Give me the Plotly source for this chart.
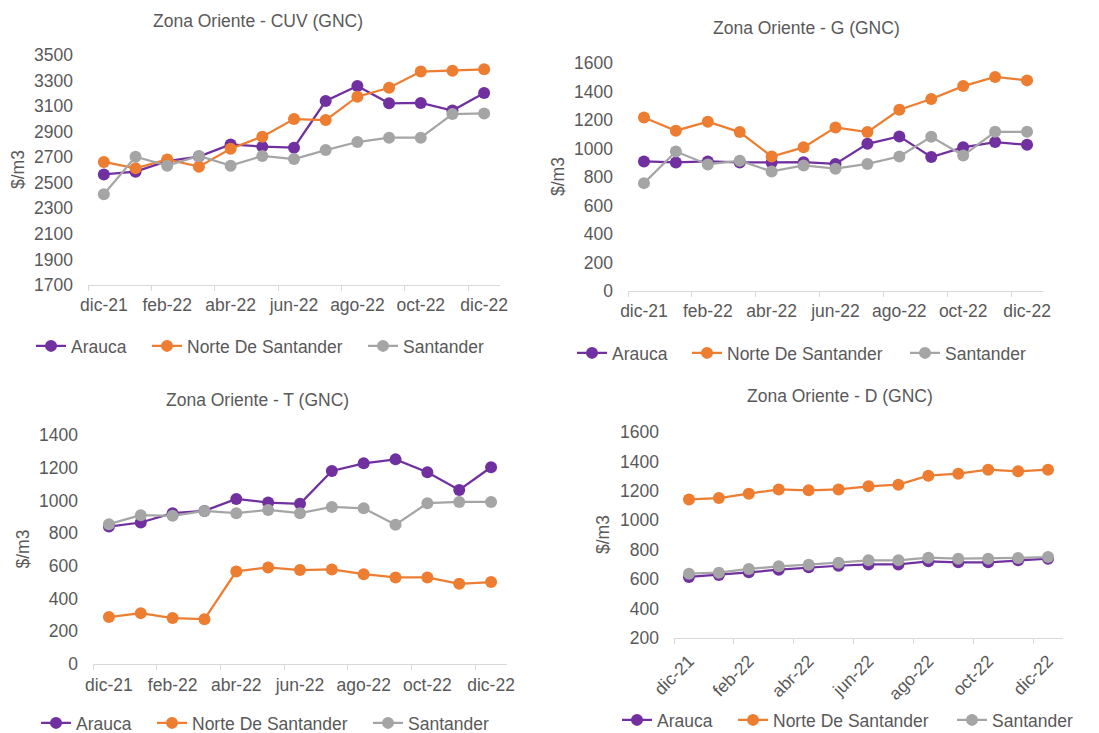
import plotly.graph_objects as go

months = ["dic-21", "ene-22", "feb-22", "mar-22", "abr-22", "may-22", "jun-22",
          "jul-22", "ago-22", "sep-22", "oct-22", "nov-22", "dic-22"]
series_names = ["Arauca", "Norte De Santander", "Santander"]
colors = ["#7030A0", "#ED7D31", "#A5A5A5"]

cuv_arauca = [2565, 2587, 2670, 2705, 2800, 2783, 2775, 3140, 3257, 3122, 3125, 3065, 3203]
cuv_norte = [2663, 2613, 2683, 2626, 2767, 2861, 2999, 2991, 3174, 3244, 3370, 3377, 3388]
cuv_sant = [2410, 2704, 2634, 2710, 2634, 2710, 2686, 2756, 2819, 2853, 2853, 3038, 3043]

g_arauca = [909, 902, 909, 902, 902, 904, 892, 1033, 1085, 940, 1008, 1045, 1026]
g_norte = [1218, 1125, 1188, 1115, 944, 1008, 1148, 1115, 1272, 1347, 1438, 1502, 1478]
g_sant = [757, 979, 888, 914, 839, 881, 858, 892, 944, 1082, 951, 1117, 1117]

t_arauca = [840, 865, 922, 936, 1009, 987, 979, 1180, 1227, 1251, 1172, 1064, 1203]
t_norte = [287, 311, 281, 274, 566, 590, 574, 578, 549, 529, 529, 490, 501]
t_sant = [855, 910, 906, 936, 922, 942, 922, 960, 952, 851, 983, 991, 991]

d_arauca = [615, 628, 646, 664, 680, 691, 700, 700, 721, 714, 714, 728, 739]
d_norte = [1142, 1151, 1181, 1210, 1204, 1210, 1231, 1242, 1303, 1317, 1344, 1333, 1344]
d_sant = [637, 644, 669, 687, 698, 712, 728, 728, 746, 739, 739, 744, 750]

titles = ["Zona Oriente - CUV (GNC)", "Zona Oriente - G (GNC)",
          "Zona Oriente - T (GNC)", "Zona Oriente - D (GNC)"]
y_title = "$/m3"
y_ranges = [[1700, 3500], [0, 1600], [0, 1400], [200, 1600]]
panels = [
    [cuv_arauca, cuv_norte, cuv_sant],
    [g_arauca, g_norte, g_sant],
    [t_arauca, t_norte, t_sant],
    [d_arauca, d_norte, d_sant],
]

W, H = 1099, 733
OFF = 8  # page body margin
TXT = "#595959"
FONT = "Liberation Sans, Arial, sans-serif"
FS = 17.5


def fx(px):
    return (px - OFF) / W


def fy(py):
    return 1 - (py - OFF) / H


# layout geometry (screen pixels)
plot_boxes = [  # x0, x1, ytop, ybottom
    (88, 500, 55, 285),
    (628, 1043, 63, 291),
    (93, 507, 435, 664),
    (674, 1063, 432, 638),
]
title_pos = [(258, 21), (806, 28), (257, 400), (840, 396)]
ytitle_x = [18, 558, 22, 603]
legend_text_x = [(71, 187, 403), (612, 727, 945), (76, 192, 408), (657, 773, 992)]
legend_y = [346, 353, 723, 720]
xlabel_standoff = [4, 4, 5, 5]

fig = go.Figure()
layout = dict(
    width=W, height=H,
    margin=dict(l=0, r=0, t=0, b=0),
    paper_bgcolor="white", plot_bgcolor="white",
    font=dict(family=FONT, color=TXT, size=FS),
    annotations=[],
)

k = 0
for p in range(4):
    ax = "" if p == 0 else str(p + 1)
    for s in range(3):
        k += 1
        lg = "legend" if k == 1 else "legend%d" % k
        fig.add_trace(go.Scatter(
            x=months, y=panels[p][s], name=series_names[s],
            mode="lines+markers",
            line=dict(color=colors[s], width=2.25),
            marker=dict(color=colors[s], size=12),
            xaxis="x" + ax, yaxis="y" + ax, legend=lg,
            showlegend=True,
        ))
        layout[lg] = dict(
            x=fx(legend_text_x[p][s] - 40), y=fy(legend_y[p]),
            xanchor="left", yanchor="middle",
            orientation="h", font=dict(size=FS, color=TXT),
            bgcolor="rgba(0,0,0,0)", itemwidth=30,
        )
    x0, x1, yt, yb = plot_boxes[p]
    layout["xaxis" + ax] = dict(
        domain=[fx(x0), fx(x1)], anchor="y" + ax, automargin=False,
        type="category", range=[-0.5, 12.5],
        tick0=0, dtick=2, tickson="boundaries",
        ticks="outside", ticklen=5, tickcolor="#D9D9D9", tickwidth=1,
        showline=True, linecolor="#D9D9D9", linewidth=1,
        showgrid=False, zeroline=False,
        tickfont=dict(size=FS, color=TXT),
        tickangle=-45 if p == 3 else 0,
        ticklabelstandoff=xlabel_standoff[p],
    )
    layout["yaxis" + ax] = dict(
        domain=[fy(yb), fy(yt)], anchor="x" + ax, automargin=False,
        range=y_ranges[p], tick0=y_ranges[p][0], dtick=200,
        showline=False, showgrid=False, zeroline=False, ticks="",
        tickfont=dict(size=FS, color=TXT),
        ticklabelstandoff=14,
    )
    tx, ty = title_pos[p]
    layout["annotations"].append(dict(
        text=titles[p], x=fx(tx), y=fy(ty), xref="paper", yref="paper",
        xanchor="center", yanchor="middle", showarrow=False,
        font=dict(size=FS, color=TXT),
    ))
    layout["annotations"].append(dict(
        text=y_title, x=fx(ytitle_x[p]), y=fy((yt + yb) / 2),
        xref="paper", yref="paper", xanchor="center", yanchor="middle",
        textangle=-90, showarrow=False, font=dict(size=FS, color=TXT),
    ))

fig.update_layout(**layout)
fig.write_html("out.html")
